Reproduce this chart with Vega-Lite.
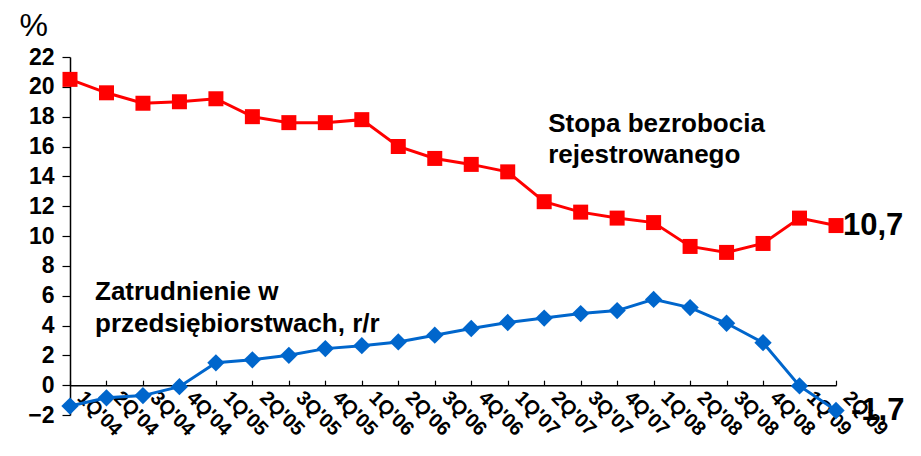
{
  "$schema": "https://vega.github.io/schema/vega-lite/v6.json",
  "width": 766,
  "height": 358,
  "autosize": "none",
  "padding": {"left": 70, "top": 57, "right": 85, "bottom": 41},
  "background": "white",
  "config": {"view": {"stroke": null}, "font": "Liberation Sans", "axis": {"labelOverlap": false}},
  "datasets": {
    "series": [
      {"q": "1Q'04", "s": "Stopa bezrobocia", "v": 20.5},
      {"q": "2Q'04", "s": "Stopa bezrobocia", "v": 19.6},
      {"q": "3Q'04", "s": "Stopa bezrobocia", "v": 18.9},
      {"q": "4Q'04", "s": "Stopa bezrobocia", "v": 19.0},
      {"q": "1Q'05", "s": "Stopa bezrobocia", "v": 19.2},
      {"q": "2Q'05", "s": "Stopa bezrobocia", "v": 18.0},
      {"q": "3Q'05", "s": "Stopa bezrobocia", "v": 17.6},
      {"q": "4Q'05", "s": "Stopa bezrobocia", "v": 17.6},
      {"q": "1Q'06", "s": "Stopa bezrobocia", "v": 17.8},
      {"q": "2Q'06", "s": "Stopa bezrobocia", "v": 16.0},
      {"q": "3Q'06", "s": "Stopa bezrobocia", "v": 15.2},
      {"q": "4Q'06", "s": "Stopa bezrobocia", "v": 14.8},
      {"q": "1Q'07", "s": "Stopa bezrobocia", "v": 14.3},
      {"q": "2Q'07", "s": "Stopa bezrobocia", "v": 12.3},
      {"q": "3Q'07", "s": "Stopa bezrobocia", "v": 11.6},
      {"q": "4Q'07", "s": "Stopa bezrobocia", "v": 11.2},
      {"q": "1Q'08", "s": "Stopa bezrobocia", "v": 10.9},
      {"q": "2Q'08", "s": "Stopa bezrobocia", "v": 9.3},
      {"q": "3Q'08", "s": "Stopa bezrobocia", "v": 8.9},
      {"q": "4Q'08", "s": "Stopa bezrobocia", "v": 9.5},
      {"q": "1Q'09", "s": "Stopa bezrobocia", "v": 11.2},
      {"q": "2Q'09", "s": "Stopa bezrobocia", "v": 10.7},
      {"q": "1Q'04", "s": "Zatrudnienie", "v": -1.4},
      {"q": "2Q'04", "s": "Zatrudnienie", "v": -0.85},
      {"q": "3Q'04", "s": "Zatrudnienie", "v": -0.7},
      {"q": "4Q'04", "s": "Zatrudnienie", "v": -0.1},
      {"q": "1Q'05", "s": "Zatrudnienie", "v": 1.5},
      {"q": "2Q'05", "s": "Zatrudnienie", "v": 1.7},
      {"q": "3Q'05", "s": "Zatrudnienie", "v": 2.0},
      {"q": "4Q'05", "s": "Zatrudnienie", "v": 2.45},
      {"q": "1Q'06", "s": "Zatrudnienie", "v": 2.65},
      {"q": "2Q'06", "s": "Zatrudnienie", "v": 2.9},
      {"q": "3Q'06", "s": "Zatrudnienie", "v": 3.35},
      {"q": "4Q'06", "s": "Zatrudnienie", "v": 3.8},
      {"q": "1Q'07", "s": "Zatrudnienie", "v": 4.2},
      {"q": "2Q'07", "s": "Zatrudnienie", "v": 4.5},
      {"q": "3Q'07", "s": "Zatrudnienie", "v": 4.8},
      {"q": "4Q'07", "s": "Zatrudnienie", "v": 5.0},
      {"q": "1Q'08", "s": "Zatrudnienie", "v": 5.75},
      {"q": "2Q'08", "s": "Zatrudnienie", "v": 5.2},
      {"q": "3Q'08", "s": "Zatrudnienie", "v": 4.15},
      {"q": "4Q'08", "s": "Zatrudnienie", "v": 2.85},
      {"q": "1Q'09", "s": "Zatrudnienie", "v": -0.05},
      {"q": "2Q'09", "s": "Zatrudnienie", "v": -1.7}
    ],
    "notes": [
      {"kind": "red", "q": "2Q'07", "v": 18.4, "text": ["Stopa bezrobocia", "rejestrowanego"]},
      {"kind": "blue", "q": "1Q'04", "v": 7.1, "text": ["Zatrudnienie w", "przedsiębiorstwach, r/r"]},
      {"kind": "endRed", "q": "2Q'09", "v": 10.7, "text": ["10,7"]},
      {"kind": "endBlue", "q": "2Q'09", "v": -1.7, "text": ["-1,7"]}
    ]
  },
  "encoding": {
    "x": {
      "field": "q", "type": "ordinal", "sort": null,
      "scale": {"type": "point", "padding": 0},
      "axis": {
        "title": null, "offset": -29.8, "labelAngle": 45, "labelAlign": "left", "labelBaseline": "middle",
        "labelFont": "Liberation Sans", "labelFontWeight": "bold", "labelFontSize": 20, "labelColor": "black",
        "labelPadding": 14, "labelOffset": 10, "labelOverlap": false, "labelBound": false,
        "tickSize": -5, "tickColor": "black", "domainColor": "black",
        "domainWidth": 1.5, "tickWidth": 1.2
      }
    },
    "y": {
      "field": "v", "type": "quantitative",
      "scale": {"domain": [-2, 22], "nice": false, "zero": false},
      "axis": {
        "values": [-2, 0, 2, 4, 6, 8, 10, 12, 14, 16, 18, 20, 22],
        "labelOverlap": false, "labelBound": false,
        "title": "%", "titleAngle": 0, "titleAlign": "left", "titleBaseline": "alphabetic",
        "titleX": -51, "titleY": -22, "titleFont": "Liberation Sans", "titleFontSize": 32, "titleFontWeight": "normal", "titleColor": "black",
        "labelFont": "Liberation Sans", "labelFontWeight": "bold", "labelFontSize": 23, "labelColor": "black",
        "labelPadding": 8, "tickSize": 8, "tickColor": "black", "domainColor": "black", "domainWidth": 1.5, "tickWidth": 1.2,
        "grid": false
      }
    },
    "color": {
      "field": "s", "type": "nominal",
      "scale": {"domain": ["Stopa bezrobocia", "Zatrudnienie"], "range": ["#FF0000", "#0066CC"]},
      "legend": null
    }
  },
  "layer": [
    {
      "data": {"name": "series"},
      "mark": {"type": "line", "strokeWidth": 3},
      "encoding": {}
    },
    {
      "data": {"name": "series"},
      "mark": {"type": "point", "filled": true, "opacity": 1},
      "encoding": {
        "shape": {
          "field": "s", "type": "nominal",
          "scale": {"domain": ["Stopa bezrobocia", "Zatrudnienie"], "range": ["square", "diamond"]},
          "legend": null
        },
        "size": {
          "field": "s", "type": "nominal",
          "scale": {"domain": ["Stopa bezrobocia", "Zatrudnienie"], "range": [225, 300]},
          "legend": null
        }
      }
    },
    {
      "data": {"name": "notes"},
      "transform": [{"filter": "datum.kind == 'red'"}],
      "mark": {"type": "text", "align": "left", "baseline": "top", "font": "Liberation Sans", "fontWeight": "bold", "fontSize": 26, "lineHeight": 31, "dx": 4},
      "encoding": {"text": {"field": "text"}, "color": {"value": "black"}}
    },
    {
      "data": {"name": "notes"},
      "transform": [{"filter": "datum.kind == 'blue'"}],
      "mark": {"type": "text", "align": "left", "baseline": "top", "font": "Liberation Sans", "fontWeight": "bold", "fontSize": 26, "lineHeight": 32, "dx": 25},
      "encoding": {"text": {"field": "text"}, "color": {"value": "black"}}
    },
    {
      "data": {"name": "notes"},
      "transform": [{"filter": "datum.kind == 'endRed'"}],
      "mark": {"type": "text", "align": "left", "baseline": "middle", "font": "Liberation Sans", "fontWeight": "bold", "fontSize": 31, "dx": 7},
      "encoding": {"text": {"field": "text"}, "color": {"value": "black"}}
    },
    {
      "data": {"name": "notes"},
      "transform": [{"filter": "datum.kind == 'endBlue'"}],
      "mark": {"type": "text", "align": "left", "baseline": "middle", "font": "Liberation Sans", "fontWeight": "bold", "fontSize": 31, "dx": 15},
      "encoding": {"text": {"field": "text"}, "color": {"value": "black"}}
    }
  ]
}
